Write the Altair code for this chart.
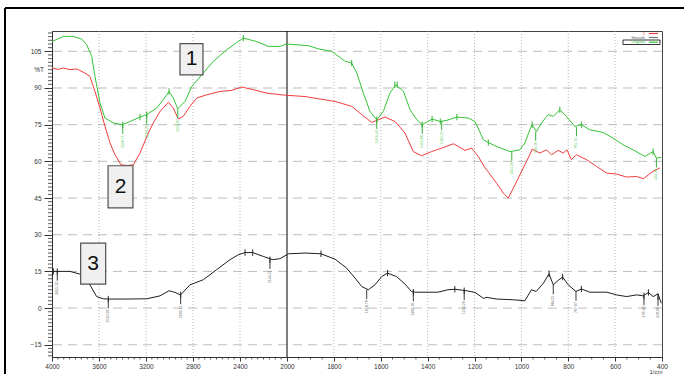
import altair as alt
import pandas as pd

# ---------------- data ----------------
green_wn = [4000, 3904, 3819, 3747, 3705, 3662, 3634, 3591, 3549, 3478,
            3398, 3336, 3251, 3194, 3109, 3053, 3004, 2968, 2930, 2868,
            2811, 2712, 2627, 2513, 2428, 2372, 2258, 2159, 2060, 2008,
            1909, 1866, 1809, 1752, 1724, 1702, 1674, 1646, 1617, 1589,
            1561, 1536, 1503, 1475, 1446, 1423, 1381, 1346, 1317, 1275,
            1226, 1198, 1177, 1162, 1141, 1106, 1049, 1006, 985, 964,
            954, 935, 914, 886, 864, 836, 808, 772, 744, 708,
            651, 609, 566, 523, 473, 438, 424, 403]
green_t = [109.0, 111.1, 111.1, 110.0, 107.7, 102.9, 94.7, 83.8, 77.7, 75.7,
           75.0, 76.3, 78.1, 79.1, 81.8, 85.2, 88.6, 85.9, 81.5, 84.5,
           90.6, 96.1, 100.9, 105.6, 108.6, 110.4, 109.0, 107.0, 107.0, 108.0,
           107.3, 106.0, 105.0, 100.9, 100.2, 96.1, 87.9, 80.4, 77.0, 80.4,
           87.9, 91.3, 88.6, 81.1, 77.0, 75.0, 77.3, 76.3, 76.8, 78.1,
           77.7, 76.3, 72.0, 68.8, 67.7, 66.1, 64.0, 64.7, 67.5, 72.9,
           75.0, 72.2, 75.7, 79.1, 78.4, 81.1, 78.4, 74.3, 75.0, 72.9,
           71.8, 69.5, 66.8, 64.7, 62.0, 64.0, 61.3, 61.7]

red_wn = [4000, 3950, 3904, 3847, 3790, 3719, 3677, 3634, 3591, 3549,
          3506, 3464, 3413, 3360, 3308, 3251, 3180, 3138, 3081, 3010,
          2968, 2925, 2883, 2826, 2768, 2683, 2570, 2471, 2386, 2287,
          2173, 2031, 1923, 1866, 1795, 1724, 1681, 1638, 1610, 1582,
          1539, 1497, 1461, 1426, 1383, 1340, 1290, 1241, 1212, 1184,
          1156, 1140, 1106, 1077, 1056, 1027, 992, 964, 954, 921,
          893, 871, 843, 822, 805, 787, 765, 722, 679, 636,
          594, 551, 508, 480, 438, 409]
red_t = [98.2, 97.6, 98.2, 97.5, 97.8, 96.1, 94.7, 88.6, 81.8, 74.3,
         67.5, 62.7, 58.6, 58.3, 58.6, 63.4, 71.6, 75.7, 80.4, 84.1,
         81.8, 77.3, 78.4, 82.5, 85.9, 87.2, 88.6, 89.0, 90.4, 89.3,
         87.9, 87.1, 86.5, 85.6, 84.5, 82.5, 79.1, 75.9, 77.0, 78.1,
         76.3, 71.6, 64.0, 62.3, 64.0, 65.4, 67.2, 64.5, 65.4, 62.0,
         57.5, 55.5, 51.1, 47.0, 45.0, 50.4, 57.3, 62.7, 65.0, 63.4,
         64.7, 62.7, 64.5, 63.4, 64.7, 60.7, 62.7, 60.7, 57.9, 55.2,
         54.8, 53.6, 53.8, 52.9, 55.9, 57.3]

black_wn = [4000, 3989, 3932, 3847, 3762, 3677, 3620, 3563, 3521, 3364,
            3194, 3081, 3004, 2953, 2905, 2826, 2712, 2599, 2485, 2414,
            2357, 2292, 2201, 2122, 2060, 1994, 1923, 1855, 1795, 1746,
            1710, 1681, 1653, 1625, 1596, 1571, 1533, 1497, 1469, 1452,
            1356, 1313, 1284, 1234, 1198, 1162, 1148, 1106, 1034, 985,
            957, 937, 906, 882, 864, 843, 824, 800, 767, 744,
            708, 636, 594, 551, 508, 480, 458, 438, 417, 403]
black_t = [13.6, 15.0, 15.0, 15.0, 13.9, 9.5, 4.7, 3.8, 3.7, 3.7,
           3.8, 5.0, 7.1, 6.4, 5.4, 9.5, 11.6, 15.7, 19.8, 21.8,
           22.7, 22.7, 21.1, 19.8, 20.2, 22.2, 22.5, 22.2, 20.0, 16.4,
           12.3, 8.8, 7.5, 9.5, 12.9, 14.3, 12.9, 9.9, 6.8, 6.5,
           6.5, 7.5, 7.7, 7.1, 6.4, 4.0, 4.4, 3.7, 3.4, 3.0,
           7.5, 6.8, 10.2, 14.0, 9.5, 11.3, 12.7, 9.5, 6.8, 7.8,
           6.5, 6.5, 5.4, 4.7, 5.4, 5.0, 6.4, 4.7, 5.8, 2.0]

# labelled peaks (drop line + vertical label)
g_peak_wn = [3398, 3194, 2930, 1617, 1423, 1340, 1041, 939, 765, 424]
g_peak_t = [75.0, 79.1, 81.5, 77.0, 75.0, 76.5, 64.0, 72.2, 74.0, 61.3]
g_peak_lbl = ["3398.71", "3194.23", "2929.87", "1616.40", "1423.88",
              "1340.29", "1041.56", "939.36", "765.74", "424.36"]
k_peak_wn = [3955, 3521, 2905, 2145, 1660, 1461, 1244, 864, 767, 477, 417]
k_peak_t = [15.0, 3.7, 5.4, 19.8, 7.5, 6.5, 7.1, 9.5, 6.8, 5.0, 4.7]
k_peak_lbl = ["3955.10", "3520.96", "2905.11", "2144.51", "1658.78",
              "1460.16", "1244.29", "864.25", "767.67", "478.38", "418.60"]

# small cross marks on the curves
g_mark_wn = [3398, 3251, 3194, 3004, 2372, 1724, 1540, 1530, 1617, 1423,
             1381, 1346, 1275, 1141, 954, 836, 744, 438]
g_mark_t = [75.0, 78.1, 79.1, 88.6, 110.4, 100.2, 91.3, 91.3, 77.0, 75.0,
            77.3, 76.3, 78.1, 67.7, 75.0, 81.1, 75.0, 64.0]
k_mark_wn = [3989, 3955, 3521, 2905, 2357, 2292, 2145, 1855, 1571, 1461,
             1284, 1244, 882, 824, 744, 477, 458, 417]
k_mark_t = [15.0, 15.0, 3.7, 5.4, 22.7, 22.7, 19.8, 22.2, 14.3, 6.5,
            7.7, 7.1, 14.0, 12.7, 7.8, 5.0, 6.4, 4.7]

x_major = [4000, 3600, 3200, 2800, 2400, 2000, 1800, 1600, 1400, 1200,
           1000, 800, 600, 400]
y_major = [-15, 0, 15, 30, 45, 60, 75, 90, 105]

box_lbl = ["1", "2", "3"]
box_x1 = [2911, 3523, 3756]
box_x2 = [2715, 3311, 3543]
box_y1 = [108.1, 58.2, 26.6]
box_y2 = [95.4, 41.0, 9.8]

legend_lbl = ["1", "Smooth", "Original"]

# ---------------- styling / scales ----------------
W, H = 610, 326
FONT = "Liberation Sans"
GREEN = "#35c435"
RED = "#f23c3c"
BLACK = "#1e1e1e"

xs = alt.Scale(domain=[4000, 2000, 400], range=[0, 235, W], zero=False, nice=False)
ys = alt.Scale(domain=[-20, 113.3], zero=False, nice=False)
AX = alt.Axis(values=x_major, format="d", title=None, tickSize=4, tickColor="#333",
              domainColor="#333", labelFont=FONT, labelFontSize=6.5, labelColor="#333",
              labelPadding=2, grid=False, labelOverlap=False, labelFlush=False)
AY = alt.Axis(values=y_major, format="d", title=None, tickSize=8, tickColor="#333",
              domainColor="#333", labelFont=FONT, labelFontSize=6.5, labelColor="#333",
              labelPadding=3, grid=False, labelOverlap=False)

one = pd.DataFrame({"a": [0]})


def X(field):
    return alt.X(field, scale=xs, axis=AX)


def Y(field):
    return alt.Y(field, scale=ys, axis=AY)


# grid lines
vgrid = alt.Chart(pd.DataFrame({"wn": [w for w in x_major if w not in (4000, 2000, 400)]})).mark_rule(
    color="#9a9a9a", strokeWidth=0.7, strokeDash=[1, 2]
).encode(x=X("wn:Q"))

hgrid = alt.Chart(pd.DataFrame({"v": y_major})).mark_rule(
    color="#a0a0a0", strokeWidth=0.7, strokeDash=[9, 6]
).encode(y=Y("v:Q"))

line2000 = alt.Chart(pd.DataFrame({"wn": [2000]})).mark_rule(
    color="black", strokeWidth=1
).encode(x=X("wn:Q"))

# minor ticks
y_minor = [round(-19.5 + 1.5 * i, 2) for i in range(89)]
y_minor = [v for v in y_minor if abs(v / 15 - round(v / 15)) > 1e-6]
ytick_minor = alt.Chart(pd.DataFrame({"v": y_minor})).mark_rule(
    color="#333", strokeWidth=0.8
).encode(y=Y("v:Q"), x=alt.value(-4), x2=alt.value(0))

x_minor = [w for w in range(400, 4001, 50) if w not in x_major]
xtick_minor = alt.Chart(pd.DataFrame({"wn": x_minor})).mark_rule(
    color="#333", strokeWidth=0.8
).encode(x=X("wn:Q"), y=alt.value(H), y2=alt.value(H + 2.5))


def curve(wn, t, color):
    return alt.Chart(pd.DataFrame({"wn": wn, "t": t})).mark_line(
        strokeWidth=1, color=color).encode(x=X("wn:Q"), y=Y("t:Q"))


def crosses(wn, t, color):
    return alt.Chart(pd.DataFrame({"wn": wn, "v": t})).transform_calculate(
        top="datum.v + 1.3", bot="datum.v - 1.3"
    ).mark_rule(strokeWidth=0.9, color=color).encode(x=X("wn:Q"), y=Y("top:Q"), y2="bot:Q")


def drops(wn, t, color):
    return alt.Chart(pd.DataFrame({"wn": wn, "v": t})).transform_calculate(
        top="datum.v", bot="datum.v - 3.8"
    ).mark_rule(strokeWidth=0.9, color=color).encode(x=X("wn:Q"), y=Y("top:Q"), y2="bot:Q")


def peak_text(wn, t, lbl, color):
    return alt.Chart(pd.DataFrame({"wn": wn, "v": t, "lbl": lbl})).transform_calculate(
        ty="datum.v - 4.3"
    ).mark_text(angle=270, align="right", baseline="middle", fontSize=3.6, font=FONT,
                color=color).encode(x=X("wn:Q"), y=Y("ty:Q"), text="lbl:N")


# numbered boxes
boxes_df = pd.DataFrame({"lbl": box_lbl, "x1": box_x1, "x2": box_x2, "y1": box_y1, "y2": box_y2})
boxes = alt.Chart(boxes_df).mark_rect(fill="#f0f0f0", stroke="#505050", strokeWidth=1.2).encode(
    x=X("x1:Q"), x2="x2:Q", y=Y("y1:Q"), y2="y2:Q")
box_txt = alt.Chart(boxes_df).transform_calculate(
    cx="(datum.x1 + datum.x2) / 2", cy="(datum.y1 + datum.y2) / 2"
).mark_text(fontSize=21, font=FONT, color="#111", baseline="middle", align="center").encode(
    x=X("cx:Q"), y=Y("cy:Q"), text="lbl:N")

# %T label
pct = alt.Chart(pd.DataFrame({"v": [97.5]})).mark_text(
    align="right", baseline="middle", fontSize=6.5, font=FONT, color="#333"
).encode(y=Y("v:Q"), x=alt.value(-8), text=alt.value("%T"))

# unit label
unit = alt.Chart(one).mark_text(fontSize=6, font=FONT, color="#333", align="center").encode(
    x=alt.value(604), y=alt.value(H + 15), text=alt.value("1/cm"))

# small legend (top right)
leg_layers = []
for lbl, yy, ct, cl in zip(legend_lbl, [2.5, 6.5, 11.2], [RED, "#666", GREEN], [RED, "#777", GREEN]):
    leg_layers.append(alt.Chart(one).mark_text(
        align="right", baseline="middle", fontSize=4, font=FONT, color=ct
    ).encode(x=alt.value(593), y=alt.value(yy), text=alt.value(lbl)))
    leg_layers.append(alt.Chart(one).mark_rule(strokeWidth=1.2, color=cl).encode(
        x=alt.value(597), x2=alt.value(606), y=alt.value(yy)))
leg_box = alt.Chart(one).mark_rect(fill="transparent", stroke="black", strokeWidth=0.8).encode(
    x=alt.value(571), x2=alt.value(608), y=alt.value(9), y2=alt.value(13.5))

# outer frame
frame_l = alt.Chart(one).mark_rule(color="black", strokeWidth=2).encode(
    x=alt.value(-47), y=alt.value(-23), y2=alt.value(H + 20))
frame_t = alt.Chart(one).mark_rule(color="black", strokeWidth=2).encode(
    x=alt.value(-47), x2=alt.value(W + 30), y=alt.value(-23))

chart = alt.layer(
    vgrid, hgrid, line2000, ytick_minor, xtick_minor,
    curve(green_wn, green_t, GREEN), curve(red_wn, red_t, RED), curve(black_wn, black_t, BLACK),
    crosses(g_mark_wn, g_mark_t, "#22aa22"), crosses(k_mark_wn, k_mark_t, "#111"),
    drops(g_peak_wn, g_peak_t, "#22aa22"), drops(k_peak_wn, k_peak_t, "#222"),
    peak_text(g_peak_wn, g_peak_t, g_peak_lbl, "#5ccc5c"),
    peak_text(k_peak_wn, k_peak_t, k_peak_lbl, "#666"),
    boxes, box_txt, pct, unit, leg_box, *leg_layers, frame_l, frame_t
).properties(
    width=W, height=H,
    autosize=alt.AutoSizeParams(type="none"),
    padding={"left": 52, "top": 31, "right": 22, "bottom": 17},
    background="white",
).configure_view(stroke="#444", strokeWidth=1)

chart.save("out.html", embed_options={"renderer": "svg", "actions": False})
